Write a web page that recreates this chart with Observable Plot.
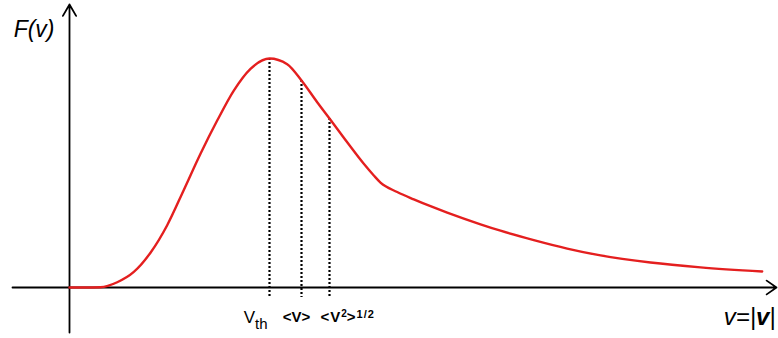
<!DOCTYPE html>
<html>
<head>
<meta charset="utf-8">
<script src="https://cdn.jsdelivr.net/npm/d3@7"></script>
<script src="https://cdn.jsdelivr.net/npm/@observablehq/plot@0.6"></script>
<style>
  html, body { margin: 0; padding: 0; background: #fff; }
  svg { display: block; }
</style>
</head>
<body>
<div id="chart"></div>
<script>
// Speed distribution curve F(v) (normalised: peak = 1, v in arbitrary units)
const speed   = [0, 0.16, 0.31, 0.477, 0.643, 0.81, 0.977, 1.143, 1.31, 1.477, 1.643, 1.81, 2.00, 2.177, 2.32, 2.477, 2.60, 2.777, 2.943, 3.043, 3.11, 3.277, 3.443, 3.61, 3.777, 4.11, 4.31, 4.643, 4.977, 5.31, 5.81, 6.31, 6.927];
const density = [0, 0, 0.001, 0.023, 0.068, 0.152, 0.272, 0.426, 0.584, 0.729, 0.860, 0.955, 1.000, 0.975, 0.904, 0.809, 0.738, 0.634, 0.540, 0.489, 0.458, 0.417, 0.385, 0.355, 0.327, 0.276, 0.248, 0.207, 0.170, 0.140, 0.109, 0.088, 0.070];

// Characteristic speeds
const markerNames   = ["vth", "vmean", "vrms"];
const markerSpeed   = [2.00, 2.32, 2.60];
const markerDensity = [1.000, 0.904, 0.738];

// Axis extents (data units)
const axisSpeed   = [-0.57, 7.07];
const axisDensity = [-0.197, 1.236];

const yLabel = "F(v)";
const xLabel = "v=|v|";

const curve = speed.map((v, i) => ({v, f: density[i]}));
const markers = markerNames.map((name, i) => ({name, v: markerSpeed[i], f: markerDensity[i]}));

const font = "'Liberation Sans', Arial, Helvetica, sans-serif";

const plot = Plot.plot({
  width: 778,
  height: 338,
  margin: 0,
  x: {domain: [-0.69, 7.09], axis: null},
  y: {domain: [-0.2227, 1.2533], axis: null},
  style: {fontFamily: font, background: "#fff", color: "#000"},
  marks: [
    // axes with arrow heads
    Plot.arrow([0], {x1: () => axisSpeed[0], x2: () => axisSpeed[1], y1: () => 0, y2: () => 0,
      stroke: "#000", strokeWidth: 1.8, headLength: 10, headAngle: 70}),
    Plot.arrow([0], {x1: () => 0, x2: () => 0, y1: () => axisDensity[0], y2: () => axisDensity[1],
      stroke: "#000", strokeWidth: 1.8, headLength: 11, headAngle: 60}),
    // dotted drop lines
    Plot.ruleX(markers, {x: "v", y1: "f", y2: () => 0, insetBottom: -10,
      stroke: "#000", strokeWidth: 2.2, strokeDasharray: "2,2"}),
    // distribution curve
    Plot.line(curve, {x: "v", y: "f", curve: "monotone-x", stroke: "#e41f1f", strokeWidth: 2.4}),
    // axis labels
    Plot.text([yLabel], {x: () => 0, y: () => axisDensity[1], text: d => d, textAnchor: "end",
      lineAnchor: "top", dx: -15, dy: 16, fontSize: 23, fontStyle: "italic"}),
    Plot.text([xLabel], {x: () => axisSpeed[1], y: () => 0, text: d => d, textAnchor: "end",
      dx: -1, dy: 30, fontSize: 24, fontStyle: "italic"}),
    // speed labels
    Plot.text([markers[0]], {x: "v", y: () => 0, text: "name", textAnchor: "end", dx: -2, dy: 30, fontSize: 17}),
    Plot.text([markers[1]], {x: "v", y: () => 0, text: "name", textAnchor: "middle", dx: -5, dy: 30, fontSize: 15, fontWeight: "bold"}),
    Plot.text([markers[2]], {x: "v", y: () => 0, text: "name", textAnchor: "start", dx: -9, dy: 30, fontSize: 15, fontWeight: "bold"})
  ]
});

// rich text (subscripts / superscripts / bold vector)
const rich = {
  "vth":   [{t: "V"}, {t: "th", size: 15, shift: 6}],
  "vmean": [{t: "<V>"}],
  "vrms":  [{t: "<V", spacing: 1}, {t: "2", size: 10, shift: -5}, {t: ">", spacing: 1},
            {t: "1/2", size: 11, shift: -4, spacing: 1}],
  "v=|v|": [{t: "v=|"}, {t: "v", weight: "bold"}, {t: "|"}]
};

d3.select(plot).selectAll("text").each(function () {
  const parts = rich[this.textContent];
  if (!parts) return;
  const sel = d3.select(this);
  sel.text(null);
  let shift = 0;
  for (const p of parts) {
    const ts = sel.append("tspan").text(p.t);
    if (p.size) ts.attr("font-size", p.size);
    if (p.weight) ts.attr("font-weight", p.weight);
    if (p.spacing) ts.attr("letter-spacing", p.spacing);
    const target = p.shift || 0;
    if (target !== shift) { ts.attr("dy", target - shift); shift = target; }
  }
});

document.getElementById("chart").appendChild(plot);
</script>
</body>
</html>
